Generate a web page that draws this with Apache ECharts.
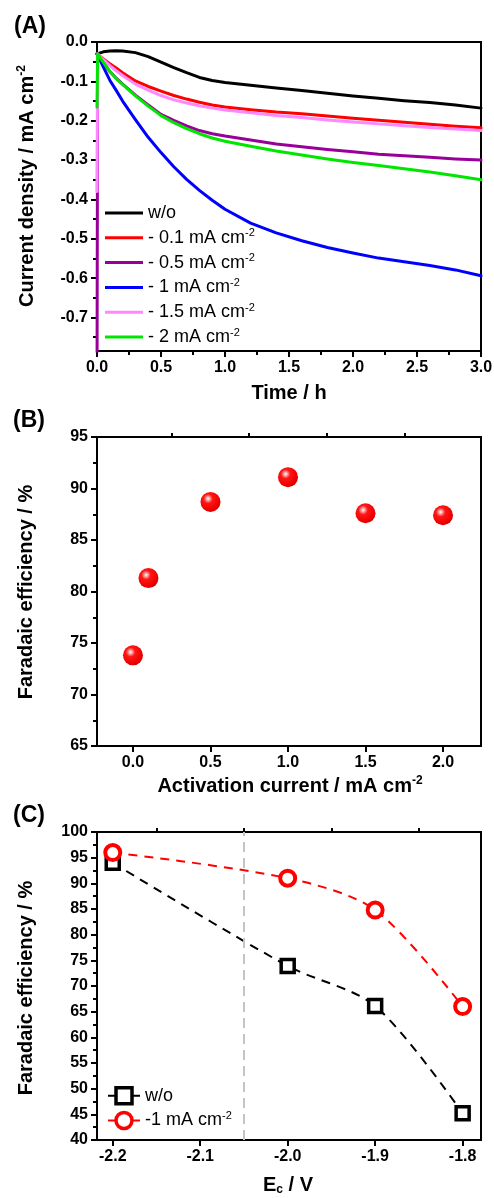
<!DOCTYPE html>
<html>
<head>
<meta charset="utf-8">
<script src="https://cdn.jsdelivr.net/npm/echarts/dist/echarts.min.js"></script>
<style>
  html, body { margin: 0; padding: 0; background: #fff; }
  #main { width: 494px; height: 1198px; }
</style>
</head>
<body>
<div id="main"></div>
<script>
// ---------- (A) current density vs. time ----------
const timeH = [0, 0.005, 0.05, 0.1, 0.15, 0.2, 0.3, 0.4, 0.5, 0.6, 0.7, 0.8, 0.9, 1.0, 1.2, 1.4, 1.6, 1.8, 2.0, 2.2, 2.4, 2.6, 2.8, 3.0];
const jWithout = [-0.03, -0.029, -0.025, -0.023, -0.022, -0.023, -0.027, -0.037, -0.051, -0.065, -0.078, -0.090, -0.098, -0.103, -0.110, -0.117, -0.123, -0.130, -0.137, -0.143, -0.149, -0.154, -0.160, -0.168];
const j01 = [-0.03, -0.030, -0.043, -0.055, -0.066, -0.078, -0.099, -0.113, -0.125, -0.136, -0.145, -0.153, -0.160, -0.165, -0.172, -0.178, -0.182, -0.188, -0.194, -0.199, -0.204, -0.209, -0.214, -0.218];
const j05 = [-0.90, -0.030, -0.052, -0.075, -0.092, -0.107, -0.135, -0.160, -0.184, -0.199, -0.213, -0.225, -0.233, -0.239, -0.249, -0.259, -0.266, -0.273, -0.279, -0.285, -0.289, -0.293, -0.297, -0.300];
const j1 = [-0.03, -0.030, -0.064, -0.097, -0.123, -0.150, -0.197, -0.242, -0.281, -0.317, -0.349, -0.377, -0.402, -0.425, -0.460, -0.485, -0.505, -0.522, -0.536, -0.549, -0.558, -0.568, -0.579, -0.594];
const j15 = [-0.38, -0.030, -0.045, -0.060, -0.073, -0.085, -0.107, -0.122, -0.136, -0.147, -0.155, -0.162, -0.168, -0.173, -0.180, -0.187, -0.192, -0.198, -0.203, -0.208, -0.213, -0.217, -0.221, -0.225];
const j2 = [-0.165, -0.030, -0.052, -0.075, -0.093, -0.108, -0.137, -0.163, -0.187, -0.205, -0.220, -0.233, -0.244, -0.252, -0.265, -0.277, -0.287, -0.297, -0.306, -0.314, -0.322, -0.330, -0.340, -0.350];
const seriesANames = ['w/o', '- 0.1 mA cm', '- 0.5 mA cm', '- 1 mA cm', '- 1.5 mA cm', '- 2 mA cm'];
const seriesAValues = [jWithout, j01, j05, j1, j15, j2];
const seriesAColors = ['#000000', '#ff0000', '#990099', '#0000ff', '#ff88ff', '#00e600'];
const aYTicks = [0, -0.1, -0.2, -0.3, -0.4, -0.5, -0.6, -0.7];
const aYMinorTicks = [-0.05, -0.15, -0.25, -0.35, -0.45, -0.55, -0.65, -0.75];

// ---------- (B) faradaic efficiency vs. activation current ----------
const activationCurrent = [0, 0.1, 0.5, 1.0, 1.5, 2.0];
const feActivation = [73.8, 81.3, 88.7, 91.1, 87.6, 87.4];
const bXTicks = [0, 0.5, 1.0, 1.5, 2.0];
const bXMinorTicks = [-0.25, 0.25, 0.75, 1.25, 1.75, 2.25];

// ---------- (C) faradaic efficiency vs. cathode potential ----------
const cathodePotential = [-2.2, -2.0, -1.9, -1.8];
const feWithout = [94.0, 73.9, 66.1, 45.2];
const feActivated = [96.0, 91.0, 84.8, 66.0];
const cSeriesNames = ['fe-without', 'fe-activated'];
const cLegendLabels = { 'fe-without': 'w/o', 'fe-activated': '-1 mA cm' };
const cXTicks = [-2.2, -2.1, -2.0, -1.9, -1.8];
const cXMinorTicks = [-2.15, -2.05, -1.95, -1.85];
const cMarkerPotential = -2.05;

const FONT = '"Liberation Sans", Arial, Helvetica, sans-serif';
const BLACK = '#000';

const chart = echarts.init(document.getElementById('main'), null, { renderer: 'canvas', width: 494, height: 1198 });

function zip(xs, ys) { return xs.map((x, i) => [x, ys[i]]); }

function mainAxis(extra) {
  const base = {
    type: 'value',
    axisLine: { show: true, onZero: false, lineStyle: { color: BLACK, width: 2 } },
    axisTick: { show: true, length: 6, lineStyle: { color: BLACK, width: 2 } },
    axisLabel: { color: BLACK, fontFamily: FONT, fontWeight: 'bold', fontSize: 16, margin: 9, showMinLabel: true, showMaxLabel: true },
    splitLine: { show: false }
  };
  const out = Object.assign({}, base, extra);
  out.axisTick = Object.assign({}, base.axisTick, extra.axisTick || {});
  out.axisLabel = Object.assign({}, base.axisLabel, extra.axisLabel || {});
  return out;
}

function minorAxis(extra) {
  return Object.assign({
    type: 'value',
    axisLine: { show: false, onZero: false },
    axisLabel: { show: false },
    splitLine: { show: false }
  }, extra);
}

const minorTickStyle = { show: true, splitNumber: 2, length: 4, lineStyle: { color: BLACK, width: 2 } };
const minorCustomTick = values => ({ show: true, length: 4, lineStyle: { color: BLACK, width: 2 }, customValues: values });
const fixed1 = v => Number(v).toFixed(1);

const legendRich = {
  t: { fontFamily: FONT, fontSize: 18, color: BLACK, lineHeight: 20 },
  s: { fontFamily: FONT, fontSize: 11, color: BLACK, lineHeight: 11, verticalAlign: 'top' }
};

const titleRich = {
  b: { fontFamily: FONT, fontSize: 20, fontWeight: 'bold', fill: BLACK, lineHeight: 22 },
  s: { fontFamily: FONT, fontSize: 12, fontWeight: 'bold', fill: BLACK, lineHeight: 12, verticalAlign: 'top' },
  u: { fontFamily: FONT, fontSize: 12, fontWeight: 'bold', fill: BLACK, lineHeight: 12, verticalAlign: 'bottom' }
};

function textEl(x, y, text, rotated) {
  return {
    type: 'text', x: x, y: y, rotation: rotated ? Math.PI / 2 : 0, silent: true,
    style: { text: text, rich: titleRich, align: 'center', verticalAlign: 'middle', font: 'bold 20px ' + FONT, fill: BLACK }
  };
}

function panelLabel(x, y, text) {
  return { type: 'text', x: x, y: y, silent: true, style: { text: text, font: 'bold 23px ' + FONT, fill: BLACK, align: 'left', verticalAlign: 'middle' } };
}

// chronoamperometry traces: straight segments between the sampled points
const seriesA = seriesANames.map((name, i) => ({
  name: name, type: 'line', xAxisIndex: 0, yAxisIndex: 0,
  data: zip(timeH, seriesAValues[i]),
  symbol: 'none', showSymbol: false, smooth: false,
  lineStyle: { color: seriesAColors[i], width: 3, join: 'round', cap: 'round' },
  itemStyle: { color: seriesAColors[i] },
  clip: true, z: 3
}));

const sphere = {
  type: 'radial', x: 0.38, y: 0.34, r: 0.66,
  colorStops: [
    { offset: 0, color: '#ffffff' },
    { offset: 0.12, color: '#ffb0b0' },
    { offset: 0.35, color: '#ff1515' },
    { offset: 0.85, color: '#f00000' },
    { offset: 1, color: '#d40000' }
  ]
};

const gridBase = { left: 97, width: 384, show: true, borderColor: BLACK, borderWidth: 2, backgroundColor: 'transparent', containLabel: false, outerBoundsMode: 'none' };

const option = {
  animation: false,
  backgroundColor: '#fff',
  grid: [
    Object.assign({ top: 42, height: 309 }, gridBase),
    Object.assign({ top: 437, height: 309 }, gridBase),
    Object.assign({ top: 832, height: 308 }, gridBase)
  ],
  xAxis: [
    mainAxis({ gridIndex: 0, min: 0, max: 3, interval: 0.5, minorTick: minorTickStyle, axisLabel: { formatter: fixed1 } }),
    mainAxis({ gridIndex: 1, min: -0.232, max: 2.245, axisLabel: { formatter: fixed1, customValues: bXTicks }, axisTick: { customValues: bXTicks } }),
    minorAxis({ gridIndex: 1, min: -0.232, max: 2.245, axisTick: minorCustomTick(bXMinorTicks) }),
    mainAxis({ gridIndex: 2, min: -2.218, max: -1.779, axisLabel: { formatter: fixed1, customValues: cXTicks }, axisTick: { customValues: cXTicks } }),
    minorAxis({ gridIndex: 2, min: -2.218, max: -1.779, axisTick: minorCustomTick(cXMinorTicks) })
  ],
  yAxis: [
    mainAxis({ gridIndex: 0, min: -0.785, max: 0, axisLabel: { formatter: fixed1, customValues: aYTicks }, axisTick: { customValues: aYTicks } }),
    minorAxis({ gridIndex: 0, min: -0.785, max: 0, position: 'left', axisTick: minorCustomTick(aYMinorTicks) }),
    mainAxis({ gridIndex: 1, min: 65, max: 95, interval: 5, minorTick: minorTickStyle }),
    mainAxis({ gridIndex: 2, min: 40, max: 100, interval: 5, minorTick: minorTickStyle })
  ],
  legend: [
    {
      data: seriesANames, orient: 'vertical', left: 100, top: 199,
      icon: 'rect', itemWidth: 38, itemHeight: 3, itemGap: 5.8, selectedMode: false,
      formatter: name => name === 'w/o' ? '{t|w/o}' : '{t|' + name + '}{s|-2}',
      textStyle: { rich: legendRich }
    },
    {
      data: [
        { name: cSeriesNames[0], itemStyle: { borderWidth: 3.5 } },
        { name: cSeriesNames[1], itemStyle: { borderWidth: 3.5 } }
      ],
      orient: 'vertical', left: 102, top: 1081,
      itemWidth: 32, itemHeight: 20, itemGap: 5, selectedMode: false,
      lineStyle: { type: 'solid', width: 2 },
      formatter: name => name === 'fe-without' ? '{t|' + cLegendLabels[name] + '}' : '{t|' + cLegendLabels[name] + '}{s|-2}',
      textStyle: { rich: legendRich }
    }
  ],
  graphic: [
    panelLabel(14, 27, '(A)'),
    panelLabel(13, 421, '(B)'),
    panelLabel(13, 816, '(C)'),
    textEl(27, 186, '{b|Current density / mA cm}{s|-2}', true),
    textEl(289, 393, '{b|Time / h}', false),
    textEl(26, 592, '{b|Faradaic efficiency / %}', true),
    textEl(290, 786, '{b|Activation current / mA cm}{s|-2}', false),
    textEl(26, 988, '{b|Faradaic efficiency / %}', true),
    textEl(288, 1185, '{b|E}{u|c}{b| / V}', false)
  ],
  series: seriesA.concat([
    {
      name: 'activation', type: 'scatter', xAxisIndex: 1, yAxisIndex: 2,
      data: zip(activationCurrent, feActivation),
      symbol: 'circle', symbolSize: 20,
      itemStyle: { color: sphere, opacity: 1 }, z: 3
    },
    {
      name: 'fe-without', type: 'line', xAxisIndex: 3, yAxisIndex: 3,
      data: zip(cathodePotential, feWithout),
      smooth: 0.3, symbol: 'rect', symbolSize: 13, showSymbol: true,
      lineStyle: { color: BLACK, width: 2, type: [9, 7] },
      itemStyle: { color: '#fff', borderColor: BLACK, borderWidth: 3.5 },
      markLine: {
        silent: true, symbol: ['none', 'none'], label: { show: false },
        lineStyle: { color: '#c4c4c4', width: 2, type: [10, 6] },
        data: [{ xAxis: cMarkerPotential }]
      },
      z: 3
    },
    {
      name: 'fe-activated', type: 'line', xAxisIndex: 3, yAxisIndex: 3,
      data: zip(cathodePotential, feActivated),
      smooth: 0.3, symbol: 'circle', symbolSize: 15, showSymbol: true,
      lineStyle: { color: '#ff0000', width: 2, type: [9, 7] },
      itemStyle: { color: '#fff', borderColor: '#ff0000', borderWidth: 4 },
      z: 4
    }
  ])
};

chart.setOption(option);
</script>
</body>
</html>
